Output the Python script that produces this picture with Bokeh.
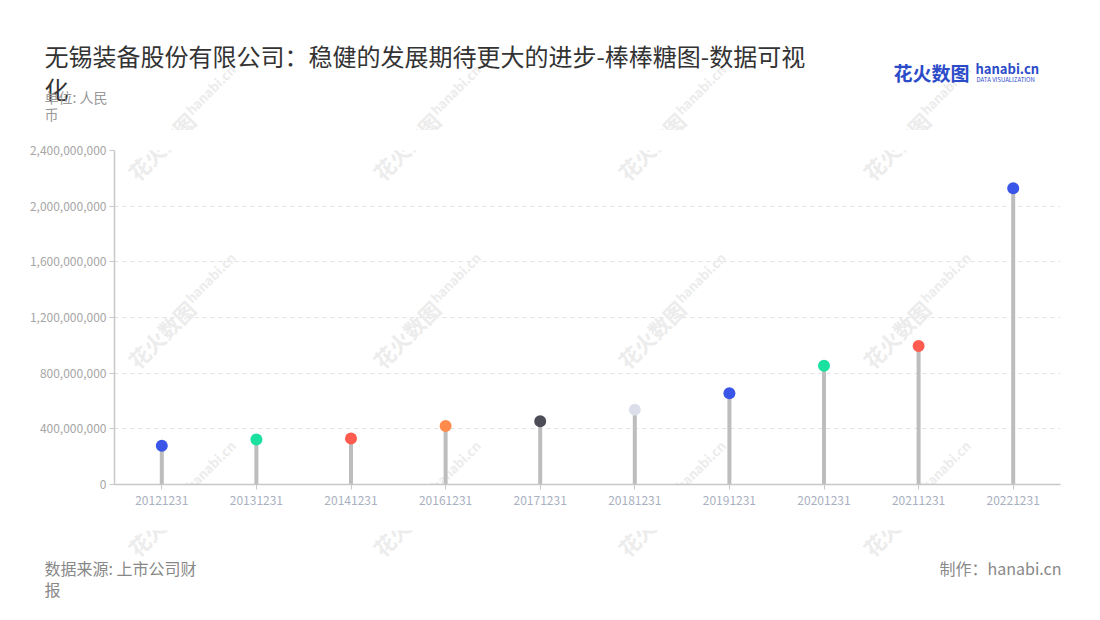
from bokeh.plotting import figure
from bokeh.layouts import column
from bokeh.models import Range1d, FactorRange, FixedTicker, NumeralTickFormatter, Label, ColumnDataSource
from bokeh.embed import file_html
from bokeh.resources import INLINE

# ---- data ----
categories = ["20121231", "20131231", "20141231", "20161231", "20171231",
              "20181231", "20191231", "20201231", "20211231", "20221231"]
values = [278e6, 323e6, 330e6, 421e6, 455e6, 538e6, 656e6, 854e6, 996e6, 2128e6]
colors = ["#3A56E8", "#1AE0A0", "#FF5B4F", "#FF8A4C", "#4D4D57",
          "#DCDFEA", "#3A56E8", "#1AE0A0", "#FF5B4F", "#3A56E8"]
y_ticks = [0, 400e6, 800e6, 1200e6, 1600e6, 2000e6, 2400e6]

title_line1 = "无锡装备股份有限公司：稳健的发展期待更大的进步-棒棒糖图-数据可视"
title_line2 = "化"
unit_line1 = "单位: 人民"
unit_line2 = "币"
source_line1 = "数据来源: 上市公司财"
source_line2 = "报"
credit = "制作：hanabi.cn"

FONT = "Noto Sans CJK SC"
W = 1100
HEAD_H, MAIN_H, FOOT_H = 130, 400, 90
MAIN_TOP = HEAD_H
FOOT_TOP = HEAD_H + MAIN_H
WM_COLOR = "#ececec"


def mklabel(text, px, py, size, color, align="left", style="normal", angle=0, level="annotation"):
    return Label(x=px, y=py, x_units="canvas", y_units="canvas",
                 text=text, text_font=FONT, text_font_size=size,
                 text_color=color, text_align=align, text_baseline="middle",
                 text_font_style=style, angle=angle, angle_units="deg", level=level)


def add_watermarks(fig, top, height):
    for row in range(-2, 3):
        for col in range(0, 5):
            cx = 161 + 245 * col
            cy = 334 + 188 * row
            if cy - top < -120 or cy - top > height + 120:
                continue
            fig.add_layout(mklabel("花火数图", cx, cy - top, "21px", WM_COLOR, align="center",
                                   style="bold", angle=45, level="underlay"))
            fig.add_layout(mklabel("hanabi.cn", cx + 49, cy - 57 - top, "13px", WM_COLOR,
                                   align="center", style="bold", angle=45, level="underlay"))


def no_align(f):
    try:
        f.frame_align = False
    except Exception:
        pass


def blank_fig(height):
    f = figure(width=W, height=height, output_backend="svg", toolbar_location=None,
               x_axis_location=None, y_axis_location=None,
               x_range=Range1d(0, W), y_range=Range1d(0, height),
               min_border=0)
    f.outline_line_color = None
    f.grid.grid_line_color = None
    f.background_fill_color = "white"
    f.border_fill_color = "white"
    no_align(f)
    return f


# ---- header ----
head = blank_fig(HEAD_H)
add_watermarks(head, 0, HEAD_H)
head.add_layout(mklabel(title_line1, 44, 55, "24px", "#333333"))
head.add_layout(mklabel(title_line2, 44, 88, "24px", "#333333"))
head.add_layout(mklabel(unit_line1, 44, 96, "14px", "#999999"))
head.add_layout(mklabel(unit_line2, 44, 113, "14px", "#999999"))
head.add_layout(mklabel("花火数图", 893, 72, "19px", "#2B4BC9", style="bold"))
head.add_layout(mklabel("hanabi.cn", 975, 68, "13px", "#2B4BC9", style="bold"))
head.add_layout(mklabel("DATA VISUALIZATION", 976, 79, "6px", "#2B4BC9"))

# ---- main chart ----
src = ColumnDataSource(dict(
    cat=categories,
    val=values,
    base=[0] * len(values),
    color=colors,
))

p = figure(width=W, height=MAIN_H, output_backend="svg", toolbar_location=None,
           x_range=FactorRange(factors=categories, range_padding=0),
           y_range=Range1d(0, 2.4e9),
           min_border_left=114, min_border_right=40,
           min_border_top=150 - MAIN_TOP, min_border_bottom=MAIN_TOP + MAIN_H - 484)
p.outline_line_color = None
p.background_fill_color = "white"
p.border_fill_color = "white"
no_align(p)
add_watermarks(p, MAIN_TOP, MAIN_H)

p.segment(x0="cat", y0="base", x1="cat", y1="val", source=src,
          line_color="#bdbdbd", line_width=4)
p.scatter(x="cat", y="val", source=src, size=12, fill_color="color", line_color=None)

p.yaxis.ticker = FixedTicker(ticks=y_ticks)
p.yaxis.formatter = NumeralTickFormatter(format="0,0")
for ax in (p.xaxis, p.yaxis):
    ax.axis_line_color = "#c8c8c8"
    ax.axis_line_width = 1.5
    ax.major_tick_line_color = "#c8c8c8"
    ax.major_tick_out = 5
    ax.major_tick_in = 0
    ax.minor_tick_line_color = None
    ax.major_label_text_font = FONT
    ax.major_label_text_font_size = "12px"
p.yaxis.major_label_text_color = "#a6a6a6"
p.xaxis.major_label_text_color = "#a9b0c0"
p.yaxis.major_label_standoff = 3
p.xaxis.major_label_standoff = 6

p.xgrid.grid_line_color = None
p.ygrid.grid_line_color = "#e2e2e2"
p.ygrid.grid_line_dash = "4 4"
p.ygrid.grid_line_width = 1

# ---- footer ----
foot = blank_fig(FOOT_H)
add_watermarks(foot, FOOT_TOP, FOOT_H)
foot.add_layout(mklabel(source_line1, 44, 567 - FOOT_TOP, "16px", "#888888"))
foot.add_layout(mklabel(source_line2, 44, 588 - FOOT_TOP, "16px", "#888888"))
foot.add_layout(mklabel(credit, 1061, 567 - FOOT_TOP, "16px", "#888888", align="right"))

layout = column(head, p, foot, spacing=0)
open("out.html", "w").write(file_html(layout, INLINE))
